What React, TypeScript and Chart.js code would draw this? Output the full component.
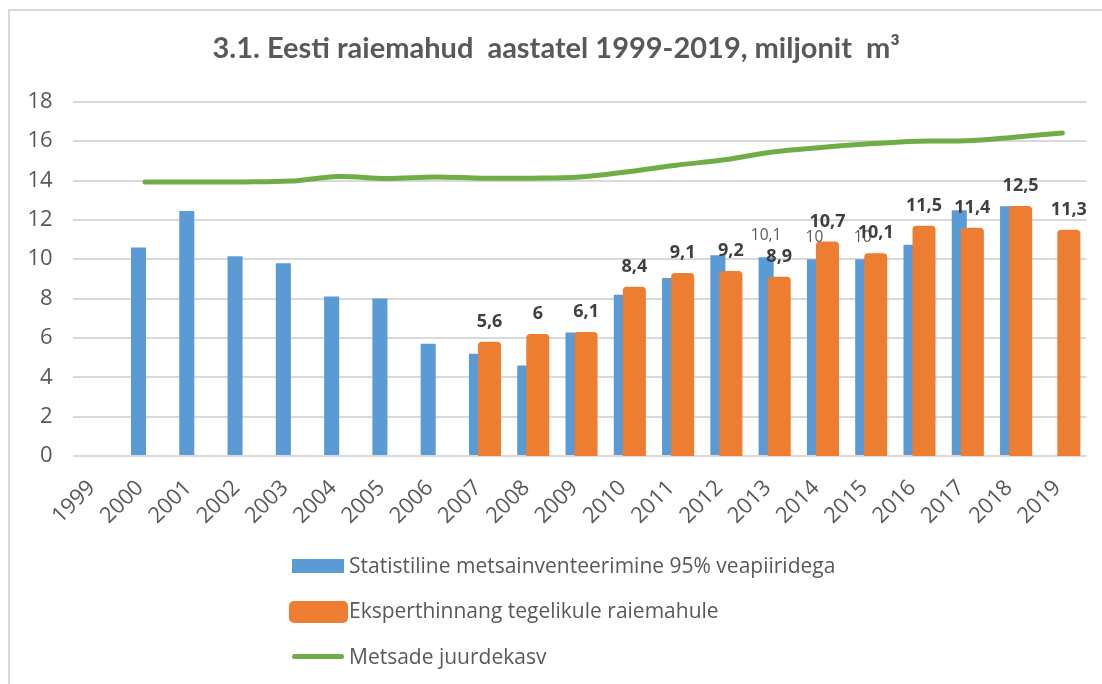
import React, { useEffect, useRef } from 'react';
import { Chart, registerables } from 'chart.js';

Chart.register(...registerables);

const years = ['1999', '2000', '2001', '2002', '2003', '2004', '2005', '2006', '2007', '2008', '2009', '2010', '2011', '2012', '2013', '2014', '2015', '2016', '2017', '2018', '2019'];

const inventoryValues: (number | null)[] = [null, 10.6, 12.45, 10.15, 9.8, 8.1, 8.0, 5.7, 5.2, 4.6, 6.28, 8.2, 9.05, 10.2, 10.1, 10.0, 10.0, 10.74, 12.49, 12.69, null];

const expertValues: (number | null)[] = [null, null, null, null, null, null, null, null, 5.6, 6, 6.1, 8.4, 9.1, 9.2, 8.9, 10.7, 10.1, 11.5, 11.4, 12.5, 11.3];

const growthValues: (number | null)[] = [null, 13.92, 13.92, 13.93, 13.97, 14.2, 14.1, 14.18, 14.12, 14.12, 14.18, 14.45, 14.78, 15.05, 15.45, 15.68, 15.87, 16.0, 16.02, 16.2, 16.42];

const inventoryLabelYears = ['2013', '2014', '2015'];

const yMin = 0;
const yMax = 18;
const yStep = 2;

const titleText = '3.1. Eesti raiemahud  aastatel 1999-2019, miljonit  m³';
const legendLabels = [
  'Statistiline metsainventeerimine 95% veapiiridega',
  'Eksperthinnang tegelikule raiemahule',
  'Metsade juurdekasv',
];

const BLUE = '#5b9bd5';
const ORANGE = '#ed7d31';
const GREEN = '#70ad47';
const TEXT = '#595959';
const LABEL_DARK = '#404040';

const fmt = (v: number) => String(v).replace('.', ',');

const overlayPlugin = {
  id: 'overlay',
  afterDatasetsDraw(chart: any) {
    const { ctx, chartArea } = chart;
    const invMeta = chart.getDatasetMeta(0);
    const expMeta = chart.getDatasetMeta(1);

    // orange bars with thick rounded outline, drawn above the blue ones
    ctx.save();
    ctx.beginPath();
    ctx.rect(chartArea.left, chartArea.top, chartArea.right - chartArea.left, chartArea.bottom - chartArea.top);
    ctx.clip();
    ctx.fillStyle = ORANGE;
    ctx.strokeStyle = ORANGE;
    ctx.lineWidth = 8;
    ctx.lineJoin = 'round';
    expMeta.data.forEach((el: any, i: number) => {
      if (expertValues[i] == null) return;
      const { x, y, base, width } = el.getProps(['x', 'y', 'base', 'width'], true);
      ctx.beginPath();
      ctx.rect(x - width / 2, y, width, base - y);
      ctx.fill();
      ctx.stroke();
    });
    ctx.restore();

    // data labels
    ctx.save();
    ctx.textAlign = 'center';
    ctx.textBaseline = 'middle';
    ctx.font = '15.5px "Open Sans"';
    ctx.fillStyle = TEXT;
    invMeta.data.forEach((el: any, i: number) => {
      const v = inventoryValues[i];
      if (v == null || !inventoryLabelYears.includes(years[i])) return;
      ctx.fillText(fmt(v), el.x, el.y - 22);
    });
    ctx.font = 'bold 18px "Open Sans"';
    ctx.fillStyle = LABEL_DARK;
    expMeta.data.forEach((el: any, i: number) => {
      const v = expertValues[i];
      if (v == null) return;
      ctx.fillText(fmt(v), el.x, el.y - 24);
    });
    ctx.restore();
  },
};

export default function App() {
  const canvasRef = useRef<HTMLCanvasElement | null>(null);

  useEffect(() => {
    if (!canvasRef.current) return;
    const chart = new Chart(canvasRef.current, {
      type: 'bar',
      data: {
        labels: years,
        datasets: [
          {
            type: 'bar',
            label: legendLabels[0],
            data: inventoryValues,
            backgroundColor: BLUE,
            borderWidth: 0,
            categoryPercentage: 0.54,
            barPercentage: 1.154,
          },
          {
            type: 'bar',
            label: legendLabels[1],
            data: expertValues,
            backgroundColor: ORANGE,
            borderWidth: 0,
            categoryPercentage: 0.54,
            barPercentage: 1.154,
          },
          {
            type: 'line',
            label: legendLabels[2],
            data: growthValues,
            borderColor: GREEN,
            backgroundColor: GREEN,
            borderWidth: 5,
            pointRadius: 0,
            tension: 0.35,
            borderCapStyle: 'round',
            borderJoinStyle: 'round',
            fill: false,
          },
        ],
      } as any,
      options: {
        responsive: false,
        animation: false,
        layout: { padding: { left: 26, right: 15.5, top: 0, bottom: 128 } },
        plugins: {
          legend: { display: false },
          tooltip: { enabled: false },
          title: {
            display: true,
            text: titleText,
            color: TEXT,
            font: { family: 'Lato', size: 29, weight: 'bold' },
            padding: { top: 31, bottom: 36 },
          },
        },
        scales: {
          x: {
            grid: { display: false, drawTicks: false },
            border: { display: false },
            ticks: {
              color: TEXT,
              font: { family: 'Open Sans', size: 22 },
              minRotation: 45,
              maxRotation: 45,
              autoSkip: false,
              padding: 19,
              labelOffset: -5,
            },
            afterFit: (s: any) => {
              s.height = 100;
            },
          },
          y: {
            min: yMin,
            max: yMax,
            ticks: {
              stepSize: yStep,
              color: TEXT,
              font: { family: 'Open Sans', size: 22 },
              padding: 20,
            },
            grid: { color: '#d9d9d9', lineWidth: 2, drawTicks: false },
            border: { display: false },
            afterFit: (s: any) => {
              s.width = 46.6;
            },
          },
        },
      } as any,
      plugins: [overlayPlugin],
    });
    return () => chart.destroy();
  }, []);

  const legendFont: React.CSSProperties = {
    position: 'absolute',
    left: 349,
    fontFamily: '"Open Sans", sans-serif',
    fontSize: 21,
    lineHeight: '28px',
    color: TEXT,
    whiteSpace: 'nowrap',
  };

  return (
    <div style={{ position: 'absolute', left: 0, top: 0, width: 1102, height: 684, overflow: 'hidden', background: '#ffffff' }}>
      <div
        style={{
          position: 'absolute',
          left: 8,
          top: 9,
          width: 1100,
          height: 680,
          borderTop: '2px solid #d9d9d9',
          borderLeft: '2px solid #d9d9d9',
          boxSizing: 'border-box',
        }}
      />
      <canvas ref={canvasRef} width={1102} height={684} style={{ position: 'absolute', left: 0, top: 0, display: 'block' }} />
      <div style={{ position: 'absolute', left: 292, top: 559, width: 52, height: 14, background: BLUE }} />
      <div style={{ ...legendFont, top: 565 - 14.5 }}>{legendLabels[0]}</div>
      <div style={{ position: 'absolute', left: 289, top: 601, width: 59, height: 22, background: ORANGE, borderRadius: 5 }} />
      <div style={{ ...legendFont, top: 610 - 14.5 }}>{legendLabels[1]}</div>
      <div style={{ position: 'absolute', left: 292, top: 654, width: 52, height: 5, background: GREEN, borderRadius: 3 }} />
      <div style={{ ...legendFont, top: 656 - 14.5 }}>{legendLabels[2]}</div>
    </div>
  );
}
